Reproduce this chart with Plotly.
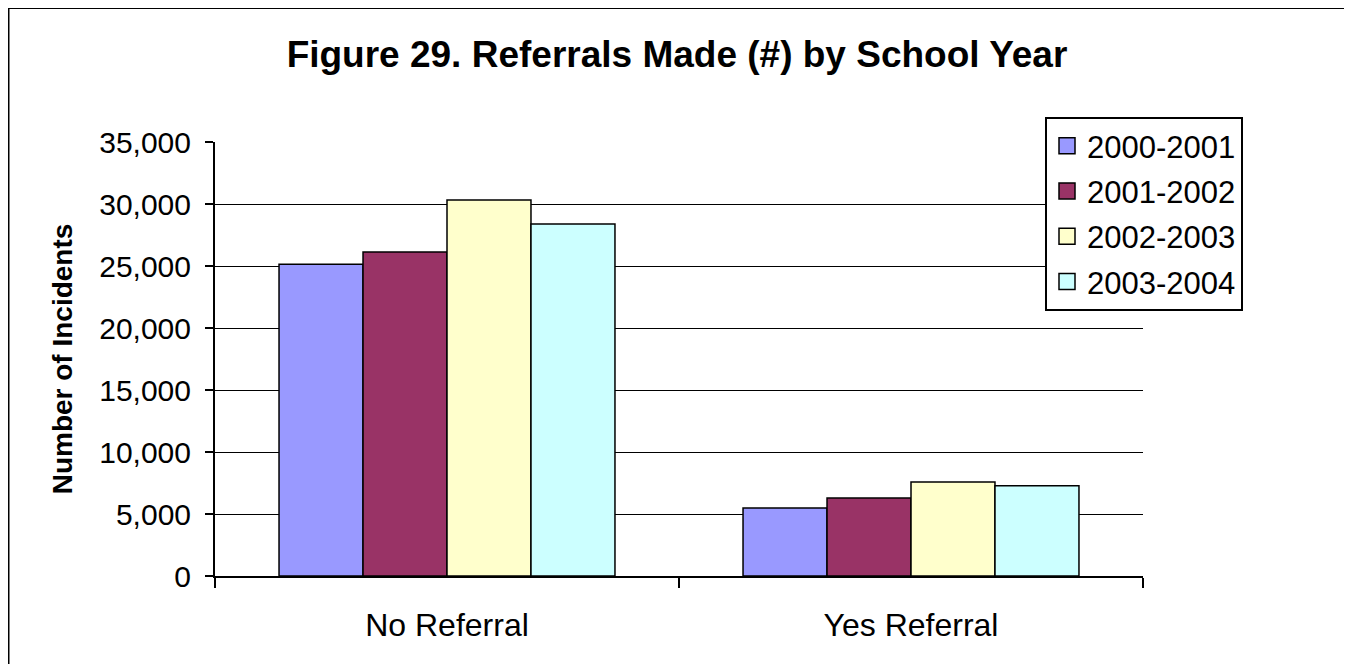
import plotly.graph_objects as go

categories = ["No Referral", "Yes Referral"]
series_names = ["2000-2001", "2001-2002", "2002-2003", "2003-2004"]
values_2000_2001 = [25150, 5480]
values_2001_2002 = [26130, 6290]
values_2002_2003 = [30320, 7580]
values_2003_2004 = [28390, 7280]
series_values = [values_2000_2001, values_2001_2002, values_2002_2003, values_2003_2004]
colors = ["#9999FF", "#993366", "#FFFFCC", "#CCFFFF"]
y_ticks = [0, 5000, 10000, 15000, 20000, 25000, 30000, 35000]

FONT = "Liberation Sans, Arial, sans-serif"
W, H = 1352, 664
# plot area in figure coordinates
L, R, T, B = 207, W - 1135, 134, H - 568
pw, ph = W - L - R, H - T - B


def px_x(p):
    return (p - L) / pw


def px_y(p):
    return (H - B - p) / ph


fig = go.Figure()
for name, vals, col in zip(series_names, series_values, colors):
    fig.add_trace(go.Bar(
        x=categories, y=vals, name=name, legendgroup=name, showlegend=False,
        marker=dict(color=col, line=dict(color="black", width=1.5)),
    ))
for name, col in zip(series_names, colors):
    fig.add_trace(go.Scatter(
        x=[None], y=[None], mode="markers", name=name, legendgroup=name,
        marker=dict(symbol="square", size=18, color=col,
                    line=dict(color="black", width=1.5)),
    ))

fig.update_layout(
    width=W, height=H,
    margin=dict(l=L, r=R, t=T, b=B, autoexpand=False),
    paper_bgcolor="white", plot_bgcolor="white",
    font=dict(family=FONT, color="black", size=30),
    barmode="group", bargap=0.276, bargroupgap=0,
    title=dict(text="<b>Figure 29. Referrals Made (#) by School Year</b>",
               x=669 / W, xanchor="center", y=1 - 46 / H, yanchor="middle",
               xref="container", yref="container",
               font=dict(family=FONT, size=37, color="black")),
    legend=dict(x=px_x(1037), y=px_y(109), xanchor="left", yanchor="top",
                bgcolor="white", bordercolor="black", borderwidth=2,
                font=dict(family=FONT, size=31, color="black"),
                traceorder="grouped", tracegroupgap=2, itemsizing="trace"),
    showlegend=True,
    xaxis=dict(showline=True, linecolor="black", linewidth=2,
               ticks="outside", tickson="boundaries", ticklen=10, tickwidth=2,
               tickcolor="black", showgrid=False, ticklabelstandoff=20,
               tickfont=dict(family=FONT, size=32, color="black")),
    yaxis=dict(range=[0, 35000], tickvals=y_ticks, tickformat=",",
               showline=True, linecolor="black", linewidth=2,
               ticks="outside", ticklen=8, tickwidth=2, tickcolor="black",
               showgrid=True, gridcolor="black", gridwidth=1,
               zeroline=False, ticklabelstandoff=8,
               tickfont=dict(family=FONT, size=30, color="black"),
               title=dict(text="<b>Number of Incidents</b>", standoff=18,
                          font=dict(family=FONT, size=28, color="black"))),
    shapes=[dict(type="rect", xref="paper", yref="paper",
                 x0=px_x(0.5), x1=px_x(1362), y0=px_y(680), y1=px_y(0),
                 line=dict(color="black", width=2), fillcolor="rgba(0,0,0,0)",
                 layer="below")],
)

fig.write_html("out.html")
